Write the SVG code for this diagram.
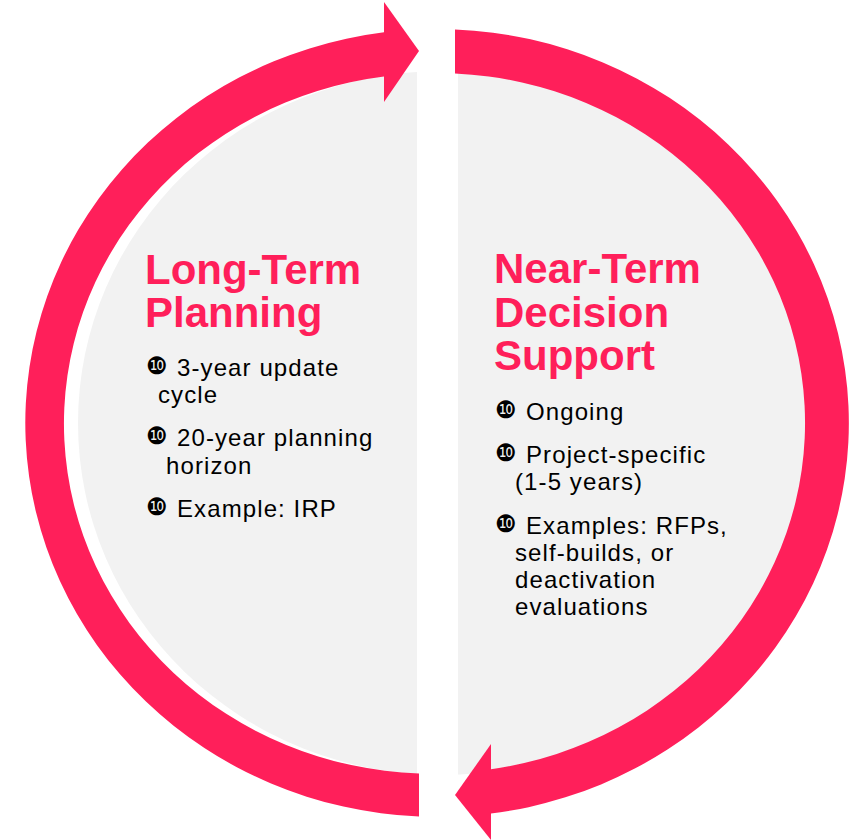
<svg xmlns="http://www.w3.org/2000/svg" width="861" height="840" viewBox="0 0 861 840">
  <style>
    .ring { fill: #FF1F5A; }
    .title { font-family: "Liberation Sans", Arial, sans-serif; font-weight: bold; font-size: 42px; fill: #FF1F5A; }
    .item { font-family: "Liberation Sans", Arial, sans-serif; font-size: 24px; letter-spacing: 1.1px; fill: #000; }
    .bullet { font-family: "DejaVu Sans", sans-serif; font-size: 24px; letter-spacing: 0; }
  </style>
  <rect width="861" height="840" fill="#FFFFFF"/>

  <!-- light grey disc split into two halves by a white gap -->
  <g id="background">
    <ellipse cx="442" cy="423" rx="364" ry="352" fill="#F2F2F2"/>
    <rect x="417" y="0" width="41" height="840" fill="#FFFFFF"/>
  </g>

  <!-- cycle arrows -->
  <g id="connectors">
    <g id="arrow-left">
      <path class="ring" d="M384 32.3 A412 394 0 0 0 419 816.6 L419 773.4 A368 350 0 0 1 384 76.6 Z"/>
      <polygon class="ring" points="384,2 419,51 384,102"/>
    </g>
    <g id="arrow-right">
      <path class="ring" d="M455 29.4 A412 394 0 0 1 491 813.6 L491 769.2 A368 350 0 0 0 455 73.4 Z"/>
      <polygon class="ring" points="491,744 455,795 491,840"/>
    </g>
  </g>

  <g id="long-term-planning">
    <text class="title" x="145" y="284">Long-Term</text>
    <text class="title" x="145" y="327">Planning</text>
    <text class="item" x="146" y="374"><tspan class="bullet">❿</tspan><tspan x="177" dy="2">3-year update</tspan></text>
    <text class="item" x="158" y="403">cycle</text>
    <text class="item" x="146" y="444"><tspan class="bullet">❿</tspan><tspan x="177" dy="2">20-year planning</tspan></text>
    <text class="item" x="166" y="474">horizon</text>
    <text class="item" x="146" y="515"><tspan class="bullet">❿</tspan><tspan x="177" dy="2">Example: IRP</tspan></text>
  </g>

  <g id="near-term-decision-support">
    <text class="title" x="494" y="283">Near-Term</text>
    <text class="title" x="494" y="327">Decision</text>
    <text class="title" x="494" y="370">Support</text>
    <text class="item" x="495" y="418"><tspan class="bullet">❿</tspan><tspan x="526" dy="2">Ongoing</tspan></text>
    <text class="item" x="495" y="461"><tspan class="bullet">❿</tspan><tspan x="526" dy="2">Project-specific</tspan></text>
    <text class="item" x="515" y="490">(1-5 years)</text>
    <text class="item" x="495" y="532"><tspan class="bullet">❿</tspan><tspan x="526" dy="2">Examples: RFPs,</tspan></text>
    <text class="item" x="515" y="561">self-builds, or</text>
    <text class="item" x="515" y="588">deactivation</text>
    <text class="item" x="515" y="615">evaluations</text>
  </g>
</svg>
